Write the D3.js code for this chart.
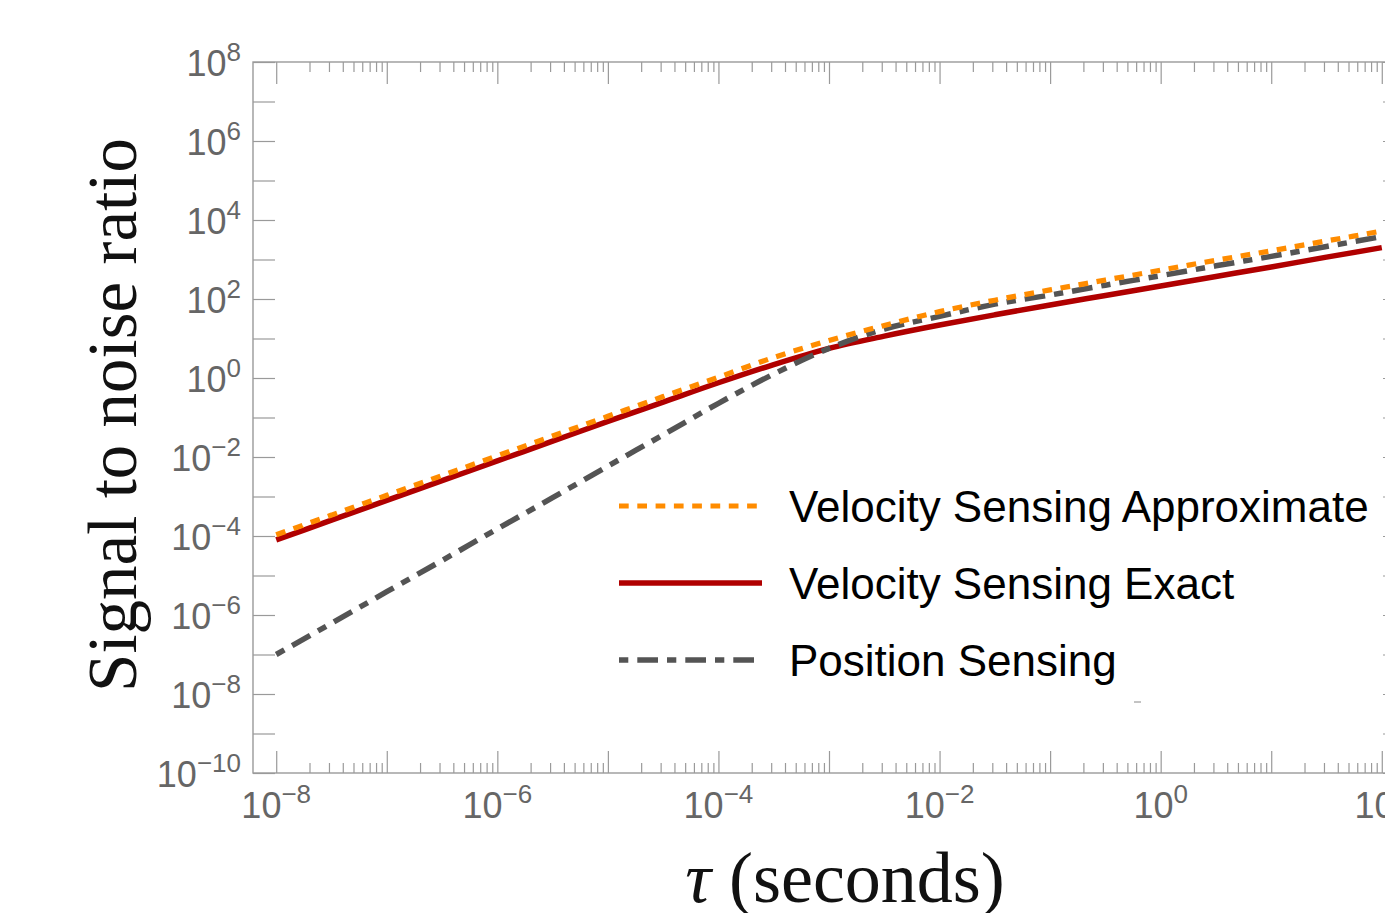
<!DOCTYPE html>
<html>
<head>
<meta charset="utf-8">
<script src="https://cdn.jsdelivr.net/npm/d3@7"></script>
<style>
  body { margin: 0; background: #fff; }
  svg { display: block; }
</style>
</head>
<body>
<div id="chart"></div>
<script>
// tau sample points, as powers of ten
const tauExp = [-8, -7.5, -7, -6.5, -6, -5.5, -5, -4.5, -4, -3.5, -3, -2.5, -2, -1.5, -1, -0.5, 0, 0.5, 1, 1.5, 2];

// log10 of the signal to noise ratio
const velApprox = [-3.97, -3.47, -2.97, -2.47, -1.97, -1.47, -0.97, -0.47, 0.02, 0.52, 0.95, 1.33, 1.68, 1.97, 2.23, 2.48, 2.73, 2.98, 3.22, 3.47, 3.72];
const velExact = [-4.10, -3.60, -3.10, -2.60, -2.10, -1.60, -1.10, -0.61, -0.12, 0.34, 0.75, 1.06, 1.34, 1.60, 1.85, 2.09, 2.33, 2.57, 2.81, 3.06, 3.30];
const position = [-7.00, -6.21, -5.41, -4.62, -3.82, -3.03, -2.23, -1.44, -0.64, 0.10, 0.75, 1.24, 1.56, 1.87, 2.10, 2.35, 2.59, 2.84, 3.08, 3.33, 3.58];

const seriesNames = ["Velocity Sensing Approximate", "Velocity Sensing Exact", "Position Sensing"];

// tick exponents
const xMajorExp = [-8, -7, -6, -5, -4, -3, -2, -1, 0, 1, 2];
const xLabelExp = [-8, -6, -4, -2, 0, 2];
const yMajorExp = [-10, -9, -8, -7, -6, -5, -4, -3, -2, -1, 0, 1, 2, 3, 4, 5, 6, 7, 8];
const yLabelExp = [-10, -8, -6, -4, -2, 0, 2, 4, 6, 8];

const W = 1385, H = 913;
const plotL = 253, plotR = 1405, plotT = 62, plotB = 773;

const svg = d3.select("#chart").append("svg")
    .attr("width", W)
    .attr("height", H);

const x = d3.scaleLog()
    .domain([Math.pow(10, -8.21), Math.pow(10, 2.21)])
    .range([plotL, plotR]);
const y = d3.scaleLog()
    .domain([1e-10, 1e8])
    .range([plotB, plotT]);

const axisColor = "#9a9a9a";
const labelColor = "#666";

// minor ticks (2..9 within each decade, inside 1e-8 .. 1e2)
const xMinor = [];
for (let e = -8; e < 2; e++) {
  for (let m = 2; m <= 9; m++) xMinor.push(m * Math.pow(10, e));
}
const xMajor = xMajorExp.map(e => Math.pow(10, e));
const yMajor = yMajorExp.map(e => Math.pow(10, e));

function styleAxis(g) {
  g.select(".domain").remove();
  g.selectAll(".tick line").attr("stroke", axisColor).attr("stroke-width", 1.2);
  g.selectAll(".tick text").remove();
}

// bottom
svg.append("g").attr("transform", `translate(0,${plotB})`)
    .call(d3.axisBottom(x).tickValues(xMajor).tickSize(-22)).call(styleAxis);
svg.append("g").attr("transform", `translate(0,${plotB})`)
    .call(d3.axisBottom(x).tickValues(xMinor).tickSize(-10)).call(styleAxis);
// top
svg.append("g").attr("transform", `translate(0,${plotT})`)
    .call(d3.axisTop(x).tickValues(xMajor).tickSize(-22)).call(styleAxis);
svg.append("g").attr("transform", `translate(0,${plotT})`)
    .call(d3.axisTop(x).tickValues(xMinor).tickSize(-10)).call(styleAxis);
// left / right
svg.append("g").attr("transform", `translate(${plotL},0)`)
    .call(d3.axisLeft(y).tickValues(yMajor).tickSize(-22)).call(styleAxis);
svg.append("g").attr("transform", `translate(${plotR},0)`)
    .call(d3.axisRight(y).tickValues(yMajor).tickSize(-22)).call(styleAxis);

// frame
svg.append("rect")
    .attr("x", plotL).attr("y", plotT)
    .attr("width", plotR - plotL).attr("height", plotB - plotT)
    .attr("fill", "none")
    .attr("stroke", axisColor)
    .attr("stroke-width", 1.4);

// tick labels
function powLabel(sel, e) {
  sel.append("tspan").text("10");
  sel.append("tspan")
      .attr("dy", -15)
      .attr("font-size", 26)
      .text(e < 0 ? "\u2212" + (-e) : String(e));
}

svg.append("g").selectAll("text")
    .data(xLabelExp)
    .enter().append("text")
    .attr("x", d => x(Math.pow(10, d)))
    .attr("y", 818)
    .attr("text-anchor", "middle")
    .attr("font-family", "Liberation Sans, Arial, sans-serif")
    .attr("font-size", 36)
    .attr("fill", labelColor)
    .each(function(d) { powLabel(d3.select(this), d); });

svg.append("g").selectAll("text")
    .data(yLabelExp)
    .enter().append("text")
    .attr("x", 241)
    .attr("y", d => y(Math.pow(10, d)) + 14)
    .attr("text-anchor", "end")
    .attr("font-family", "Liberation Sans, Arial, sans-serif")
    .attr("font-size", 36)
    .attr("fill", labelColor)
    .each(function(d) { powLabel(d3.select(this), d); });

// axis titles
svg.append("text")
    .attr("transform", "translate(136,415) rotate(-90)")
    .attr("text-anchor", "middle")
    .attr("font-family", "Liberation Serif, Times New Roman, serif")
    .attr("font-size", 69)
    .attr("fill", "#111")
    .text("Signal to noise ratio");

const xt = svg.append("text")
    .attr("x", 845)
    .attr("y", 902)
    .attr("text-anchor", "middle")
    .attr("font-family", "Liberation Serif, Times New Roman, serif")
    .attr("font-size", 72)
    .attr("fill", "#111");
xt.append("tspan").attr("font-style", "italic").text("\u03c4");
xt.append("tspan").text(" (seconds)");

// curves
const tau = tauExp.map(e => Math.pow(10, e));
const series = [
  {name: seriesNames[0], vals: velApprox, color: "#ff8c00", dash: "9.7,8.6", width: 5.2},
  {name: seriesNames[1], vals: velExact, color: "#b00000", dash: null, width: 5.5},
  {name: seriesNames[2], vals: position, color: "#545454", dash: "9.3,9,20.7,9", width: 5.5}
];

const line = d3.line()
    .x(d => x(d[0]))
    .y(d => y(d[1]))
    .curve(d3.curveMonotoneX);

// draw order: exact underneath
[series[1], series[2], series[0]].forEach(s => {
  svg.append("path")
      .datum(tau.map((t, i) => [t, Math.pow(10, s.vals[i])]))
      .attr("d", line)
      .attr("fill", "none")
      .attr("stroke", s.color)
      .attr("stroke-width", s.width)
      .attr("stroke-dasharray", s.dash)
      .attr("stroke-linecap", "butt");
});

// legend
const legend = svg.append("g");
series.forEach((s, i) => {
  const ly = 506 + i * 77;
  legend.append("line")
      .attr("x1", 619).attr("x2", 762)
      .attr("y1", ly).attr("y2", ly)
      .attr("stroke", s.color)
      .attr("stroke-width", s.width)
      .attr("stroke-dasharray", s.dash);
  legend.append("text")
      .attr("x", 789)
      .attr("y", ly + 16)
      .attr("font-family", "Liberation Sans, Arial, sans-serif")
      .attr("font-size", 44)
      .attr("fill", "#000")
      .text(s.name);
});

// stray mark under the legend
svg.append("line")
    .attr("x1", 1134).attr("x2", 1141)
    .attr("y1", 702).attr("y2", 702)
    .attr("stroke", "#888").attr("stroke-width", 1);
</script>
</body>
</html>
